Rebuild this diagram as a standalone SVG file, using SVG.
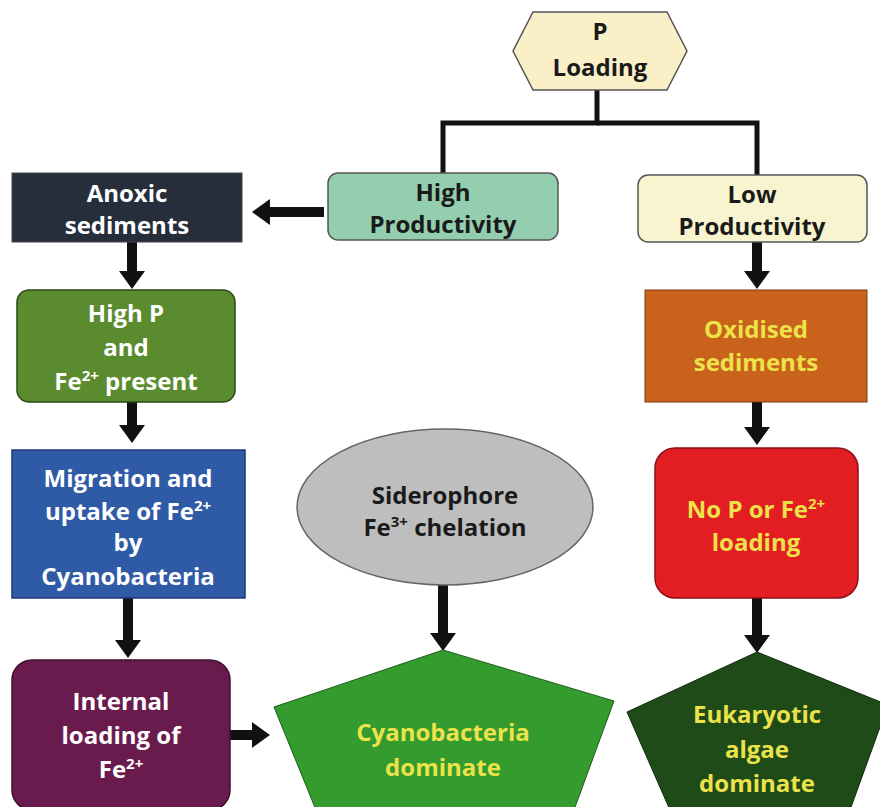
<svg xmlns="http://www.w3.org/2000/svg" width="880" height="807" viewBox="0 0 880 807">
<defs>
<marker id="ah" markerUnits="userSpaceOnUse" markerWidth="18" markerHeight="26" viewBox="0 0 18 26" refX="1" refY="13" orient="auto">
<path d="M0,0 L18,13 L0,26 z" fill="#111"/>
</marker>
<style>
text{font-family:"Open Sans","Liberation Sans",sans-serif;font-weight:bold;font-size:24px;text-anchor:middle}
.w{fill:#fff}.k{fill:#1a1a1a}.y{fill:#ECE24A}
.arr{stroke:#111;stroke-width:10;fill:none;marker-end:url(#ah)}
.tree{stroke:#111;stroke-width:5;fill:none}
.sup{font-size:15px}
</style>
</defs>
<rect width="880" height="807" fill="#fff"/>
<g id="connectors">
<polyline class="tree" points="597,90 597,123 443,123 443,173"/>
<polyline class="tree" points="597,123 757,123 757,175"/>
<line class="arr" x1="324" y1="212" x2="269" y2="212"/>
<line class="arr" x1="132" y1="242" x2="132" y2="272"/>
<line class="arr" x1="132" y1="402" x2="132" y2="426"/>
<line class="arr" x1="128" y1="598" x2="128" y2="641"/>
<line class="arr" x1="230" y1="735" x2="253" y2="735"/>
<line class="arr" x1="443" y1="585" x2="443" y2="634"/>
<line class="arr" x1="757" y1="242" x2="757" y2="272"/>
<line class="arr" x1="757" y1="402" x2="757" y2="428"/>
<line class="arr" x1="757" y1="598" x2="757" y2="636"/>
</g>
<g id="p-loading">
<polygon points="533,12 667,12 687,51 667,90 533,90 513,51" fill="#FBEFC8" stroke="#555" stroke-width="1.5"/>
<text class="k" x="600" y="40">P</text>
<text class="k" x="600" y="76">Loading</text>
</g>
<g id="high-productivity">
<rect x="328" y="173" width="230" height="67" rx="10" fill="#93CFAE" stroke="#555" stroke-width="1.5"/>
<text class="k" x="443" y="201">High</text>
<text class="k" x="443" y="233">Productivity</text>
</g>
<g id="low-productivity">
<rect x="638" y="175" width="229" height="67" rx="10" fill="#F7F4CF" stroke="#555" stroke-width="1.5"/>
<text class="k" x="752" y="203">Low</text>
<text class="k" x="752" y="235">Productivity</text>
</g>
<g id="anoxic-sediments">
<rect x="12" y="173" width="230" height="69" fill="#262E3C" stroke="#444" stroke-width="1"/>
<text class="w" x="127" y="202">Anoxic</text>
<text class="w" x="127" y="234">sediments</text>
</g>
<g id="high-p">
<rect x="17" y="290" width="218" height="112" rx="12" fill="#5B8B2F" stroke="#2d4a18" stroke-width="1.5"/>
<text class="w" x="126" y="322">High P</text>
<text class="w" x="126" y="356">and</text>
<text class="w" x="126" y="390">Fe<tspan class="sup" dy="-9">2+</tspan><tspan dy="9"> present</tspan></text>
</g>
<g id="migration">
<rect x="12" y="450" width="233" height="148" fill="#2F5BA6" stroke="#1d3a70" stroke-width="1.5"/>
<text class="w" x="128" y="487">Migration and</text>
<text class="w" x="128" y="520">uptake of Fe<tspan class="sup" dy="-9">2+</tspan></text>
<text class="w" x="128" y="551">by</text>
<text class="w" x="128" y="585">Cyanobacteria</text>
</g>
<g id="internal-loading">
<rect x="12" y="660" width="218" height="150" rx="20" fill="#6A1B4D" stroke="#3d0f2c" stroke-width="1.5"/>
<text class="w" x="121" y="710">Internal</text>
<text class="w" x="121" y="744">loading of</text>
<text class="w" x="121" y="778">Fe<tspan class="sup" dy="-9">2+</tspan></text>
</g>
<g id="siderophore">
<ellipse cx="445" cy="507" rx="148" ry="78" fill="#BEBEBE" stroke="#666" stroke-width="1.5"/>
<text class="k" x="445" y="504">Siderophore</text>
<text class="k" x="445" y="536">Fe<tspan class="sup" dy="-9">3+</tspan><tspan dy="9"> chelation</tspan></text>
</g>
<g id="cyanobacteria-dominate">
<polygon points="443,650 614,701 574,810 316,810 274,707" fill="#349B2F" stroke="#1f5c1b" stroke-width="1"/>
<text class="y" x="443" y="741" font-size="25">Cyanobacteria</text>
<text class="y" x="443" y="776" font-size="25">dominate</text>
</g>
<g id="oxidised-sediments">
<rect x="645" y="290" width="222" height="112" fill="#C9631B" stroke="#7a3a0e" stroke-width="1"/>
<text class="y" x="756" y="338">Oxidised</text>
<text class="y" x="756" y="371">sediments</text>
</g>
<g id="no-p">
<rect x="655" y="448" width="203" height="150" rx="20" fill="#E31E22" stroke="#8a1114" stroke-width="1.5"/>
<text class="y" x="756" y="518">No P or Fe<tspan class="sup" dy="-9">2+</tspan></text>
<text class="y" x="756" y="551">loading</text>
</g>
<g id="eukaryotic-algae">
<polygon points="757,652 888,705 850,810 670,810 627,712" fill="#1F4B19" stroke="#0f2a0c" stroke-width="1"/>
<text class="y" x="757" y="723">Eukaryotic</text>
<text class="y" x="757" y="758">algae</text>
<text class="y" x="757" y="792">dominate</text>
</g>
</svg>
